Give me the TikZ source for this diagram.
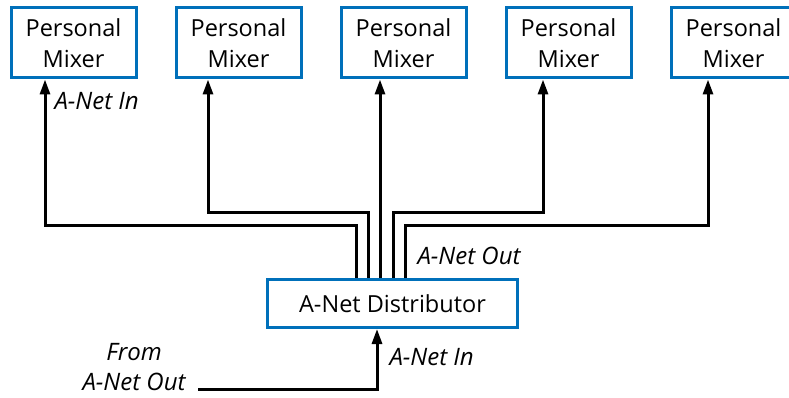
\documentclass[tikz,border=0pt]{standalone}
\usepackage{fontspec}
\setmainfont{Open Sans}
\usetikzlibrary{arrows.meta,positioning}
\definecolor{boxblue}{RGB}{0,112,186}

\begin{document}
\begin{tikzpicture}[x=1pt,y=-1pt,node distance=165pt,on grid,
    >={Triangle[length=15pt,width=10pt]},line width=3pt]
  \tikzstyle{nodeM}=[draw=boxblue,line width=3pt,minimum width=125pt,minimum height=70pt,
    inner sep=0pt,align=center,font=\fontsize{23.5}{31}\selectfont]
  \tikzstyle{nodeD}=[nodeM,minimum width=250pt,minimum height=48pt]
  \tikzstyle{lbl}=[inner sep=0pt,align=center,font=\fontsize{24}{30}\selectfont\itshape]
  \useasboundingbox (0,0) rectangle (789,398);

  % Mixers and distributor
  \node[nodeM] (mix_1) at (73.5,43) {Personal\\Mixer};
  \node[nodeM] (mix_2) [right=of mix_1] {Personal\\Mixer};
  \node[nodeM] (mix_3) [right=of mix_2] {Personal\\Mixer};
  \node[nodeM] (mix_4) [right=of mix_3] {Personal\\Mixer};
  \node[nodeM] (mix_5) [right=of mix_4] {Personal\\Mixer};
  \node[nodeD] (dist) at (392.5,303.5) {A-Net Distributor};

  % Labels
  \node[lbl,anchor=west] (lab_in)  at (53,101) {A-Net In};
  \node[lbl,anchor=west] (lab_out) at (416,256) {A-Net Out};
  \node[lbl,anchor=west] (lab_din) at (388,357) {A-Net In};
  \node[lbl] (src) at (134,367) {From\\A-Net Out};
  \coordinate (feed) at (198,389);

  % Outputs
  \foreach \i/\dx/\ex/\h in {1/-36.5/-28.5/53, 2/-24.5/-30.5/66, 3/-12.5/-23.5/66,
                             4/0.5/-25.5/66, 5/12.5/-25.5/53}
    \draw[->] ([xshift=\dx pt]dist.north) -- ++(0,-\h) -| ([xshift=\ex pt]mix_\i.south);

  % Input
  \draw[->] (feed) -| ([xshift=-15.5pt]dist.south);
\end{tikzpicture}
\end{document}
